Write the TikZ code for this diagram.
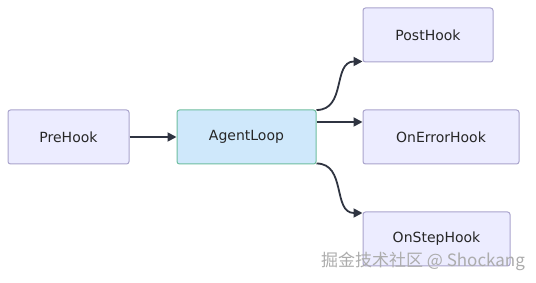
\documentclass[tikz,border=0pt]{standalone}
\usepackage{fontspec}
\setmainfont{DejaVu Sans}
\newfontfamily\cjkfont{Noto Sans CJK SC}
\usetikzlibrary{
  positioning,
  arrows.meta}

\definecolor{hookfill}{HTML}{ECECFF}
\definecolor{hookdraw}{HTML}{A9A3CC}
\definecolor{loopfill}{HTML}{CFE8FB}
\definecolor{loopdraw}{HTML}{6DBE9F}
\definecolor{edgecol}{HTML}{2F3441}

\tikzset{
  hookbox/.style={
    rectangle,
    rounded corners=2.5pt,
    fill=hookfill,
    draw=hookdraw,
    line width=1pt,
    minimum height=54pt,
    font=\fontsize{14pt}{16pt}\selectfont,
    text=black!85
  },
  loopbox/.style={
    hookbox,
    fill=loopfill,
    draw=loopdraw
  },
  flow/.style={
    draw=edgecol,
    line width=1.8pt,
    -{Triangle[length=9pt,width=9pt]}
  }
}

\begin{document}
\begin{tikzpicture}[x=1pt,y=-1pt]
  \useasboundingbox (0,0) rectangle (536,283);

  % Nodes
  \node[hookbox, minimum width=121pt] (pre)   at (68.5,137)  {PreHook};
  \node[loopbox, minimum width=139pt] (loop)  at (246.5,137) {AgentLoop};
  \node[hookbox, minimum width=130pt] (post)  at (428,35)    {PostHook};
  \node[hookbox, minimum width=156pt] (error) at (441,137)   {OnErrorHook};
  \node[hookbox, minimum width=147pt] (step)  at (436.5,239) {OnStepHook};

  % Edges
  \draw[flow] (pre) -- (loop);

  \draw[flow]
    ([yshift=-0.5pt]loop.north east)
    .. controls +(30,0) and +(-30,0) ..
    ([yshift=1pt]post.south west);

  \draw[flow]
    ([yshift=15pt]loop.east) -- ([yshift=15pt]error.west);

  \draw[flow]
    ([yshift=1pt]loop.south east)
    .. controls +(30,0) and +(-30,0) ..
    ([yshift=-1.5pt]step.north west);

  % Watermark
  \node[
    text=gray!65,
    font=\cjkfont\fontsize{17pt}{20pt}\selectfont
  ] (mark) at (423,261) {掘金技术社区 @ Shockang};

\end{tikzpicture}
\end{document}
